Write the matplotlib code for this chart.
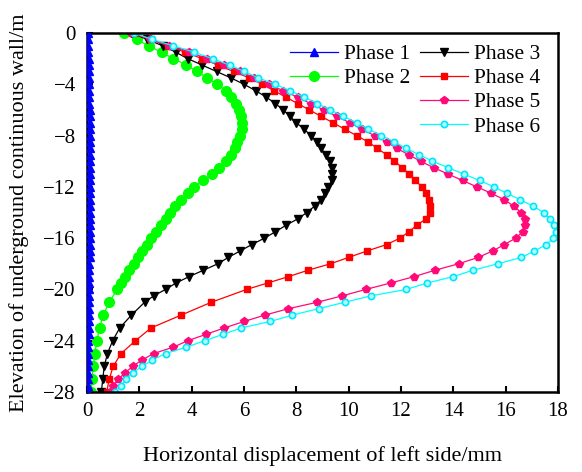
import matplotlib
matplotlib.use('Agg')
import matplotlib.pyplot as plt

plt.rcParams['font.family'] = ['Liberation Serif', 'DejaVu Serif']

# depth (elevation, m) for the densely sampled phases
depth_fine = [0, -0.5, -1, -1.5, -2, -2.5, -3, -3.5, -4, -4.5, -5, -5.5, -6, -6.5, -7, -7.5,
              -8, -8.5, -9, -9.5, -10, -10.5, -11, -11.5, -12, -12.5, -13, -13.5, -14, -14.5,
              -15, -15.5, -16, -16.5, -17, -17.5, -18, -18.5, -19, -19.5, -20, -20.5, -21,
              -21.5, -22, -22.5, -23, -23.5, -24, -24.5, -25, -25.5, -26, -26.5, -27, -27.5, -28]
depth_p2 = [0, -0.5, -1, -1.5, -2, -2.5, -3, -3.5, -4, -4.5, -5, -5.5, -6, -6.5, -7, -7.5,
            -8, -8.5, -9, -9.5, -10, -10.5, -11, -11.5, -12, -12.5, -13, -13.5, -14, -14.5,
            -15, -15.5, -16, -16.5, -17, -17.5, -18, -18.5, -19, -19.5, -20,
            -21, -22, -23, -24, -25, -26, -27, -28]
depth_p3 = [0, -0.5, -1, -1.5, -2, -2.5, -3, -3.5, -4, -4.5, -5, -5.5, -6, -6.5, -7, -7.5,
            -8, -8.5, -9, -9.5, -10, -10.5, -11, -11.5, -12, -12.5, -13, -13.5, -14, -14.5,
            -15, -15.5, -16, -16.5, -17, -17.5, -18, -18.5, -19, -19.5, -20, -20.5, -21,
            -22, -23, -24, -25, -26, -27, -28]
depth_p4 = depth_p2

# horizontal displacement (mm)
phase1 = [0.03, 0.04, 0.05, 0.05, 0.06, 0.06, 0.07, 0.07, 0.08, 0.08,
          0.09, 0.09, 0.1, 0.1, 0.1, 0.11, 0.11, 0.11, 0.12, 0.12,
          0.12, 0.12, 0.12, 0.12, 0.12, 0.12, 0.12, 0.12, 0.12, 0.12,
          0.11, 0.11, 0.11, 0.1, 0.1, 0.1, 0.09, 0.09, 0.09, 0.08,
          0.08, 0.08, 0.07, 0.07, 0.07, 0.06, 0.06, 0.06, 0.05, 0.05,
          0.05, 0.04, 0.04, 0.04, 0.03, 0.03, 0.03]
phase2 = [1.43, 1.9, 2.35, 2.85, 3.3, 3.8, 4.2, 4.6, 4.98, 5.3,
          5.5, 5.68, 5.8, 5.88, 5.92, 5.92, 5.85, 5.75, 5.65, 5.52,
          5.3, 5.05, 4.78, 4.45, 4.1, 3.85, 3.6, 3.38, 3.18, 3.0,
          2.82, 2.62, 2.45, 2.28, 2.12, 1.95, 1.78, 1.6, 1.45, 1.3,
          1.15, 0.85, 0.62, 0.48, 0.38, 0.3, 0.24, 0.19, 0.16]
phase3 = [1.7, 2.3, 2.9, 3.4, 3.85, 4.4, 4.95, 5.5, 6.0, 6.45,
          6.85, 7.2, 7.5, 7.75, 8.0, 8.3, 8.55, 8.78, 8.95, 9.12,
          9.28, 9.35, 9.38, 9.35, 9.22, 9.08, 8.95, 8.7, 8.4, 8.05,
          7.6, 7.2, 6.78, 6.3, 5.85, 5.4, 5.0, 4.45, 3.9, 3.4,
          3.0, 2.55, 2.2, 1.7, 1.25, 0.98, 0.78, 0.66, 0.6, 0.55]
phase4 = [1.8, 2.45, 3.1, 3.75, 4.4, 5.0, 5.6, 6.2, 6.7, 7.15,
          7.6, 8.05, 8.5, 8.95, 9.4, 9.85, 10.3, 10.75, 11.1, 11.45,
          11.75, 12.05, 12.3, 12.55, 12.8, 12.95, 13.08, 13.12, 13.1, 12.95,
          12.6, 12.3, 11.96, 11.45, 10.7, 10.0, 9.3, 8.45, 7.7, 6.9,
          6.1, 4.75, 3.6, 2.45, 1.85, 1.3, 1.0, 0.85, 0.75]
phase5 = [1.7, 2.4, 3.15, 3.9, 4.6, 5.25, 5.85, 6.4, 6.95, 7.5,
          8.05, 8.55, 9.05, 9.55, 10.05, 10.5, 11.0, 11.45, 11.85, 12.3,
          12.75, 13.25, 13.8, 14.35, 14.9, 15.45, 15.95, 16.3, 16.6, 16.72,
          16.75, 16.65, 16.38, 15.95, 15.5, 14.95, 14.2, 13.3, 12.5, 11.6,
          10.65, 9.75, 8.8, 7.7, 6.8, 6.0, 5.25, 4.55, 3.85, 3.3,
          2.55, 2.1, 1.75, 1.45, 1.2, 1.0, 0.88]
phase6 = [1.8, 2.5, 3.3, 4.1, 4.8, 5.45, 6.0, 6.55, 7.2, 7.75,
          8.3, 8.8, 9.3, 9.8, 10.3, 10.75, 11.25, 11.75, 12.2, 12.7,
          13.2, 13.8, 14.4, 15.0, 15.55, 16.05, 16.55, 17.05, 17.45, 17.7,
          17.85, 17.92, 17.82, 17.55, 17.1, 16.6, 15.7, 14.75, 14.0, 13.0,
          12.2, 10.85, 9.85, 8.85, 7.85, 7.0, 5.9, 5.2, 4.5, 3.8,
          3.0, 2.5, 2.1, 1.75, 1.5, 1.3, 1.07]

xticks = [0, 2, 4, 6, 8, 10, 12, 14, 16, 18]
yticks = [0, -4, -8, -12, -16, -20, -24, -28]

fig = plt.figure(figsize=(5.82, 4.72), dpi=100)
ax = fig.add_axes([0.1495, 0.1695, 0.8093, 0.7605])

lw = 0.9
h1, = ax.plot(phase1, depth_fine, color='#0000ff', marker='^', ms=6, lw=lw, zorder=3,
              label='Phase 1')
h2, = ax.plot(phase2, depth_p2, color='#00ff00', marker='o', ms=7, lw=lw, label='Phase 2')
h3, = ax.plot(phase3, depth_p3, color='black', marker='v', ms=6, lw=lw, label='Phase 3')
h4, = ax.plot(phase4, depth_p4, color='#ff0000', marker='s', ms=5, lw=lw, label='Phase 4')
h5, = ax.plot(phase5, depth_fine, color='#ff0a78', marker='p', ms=6, lw=lw, label='Phase 5')
h6, = ax.plot(phase6, depth_fine, color='#00ffff', marker='o', ms=4.5, lw=lw,
              markerfacecolor='#b0ffff', markeredgecolor='#00e5ff', markeredgewidth=1.2,
              label='Phase 6')

ax.set_xlim(0, 18)
ax.set_ylim(-28, 0)
ax.set_xticks(xticks)
ax.set_yticks(yticks)
ax.tick_params(direction='in', length=4.5, width=1.5, labelsize=15, pad=7)
ax.tick_params(axis='y', pad=8)
for s in ax.spines.values():
    s.set_linewidth(1.8)

ax.set_xlabel('Horizontal displacement of left side/mm', fontsize=16, labelpad=18)
ax.set_ylabel('Elevation of underground continuous wall/m', fontsize=16, labelpad=10)

leg_kw = dict(loc='upper left', frameon=False, fontsize=15.5, borderpad=0, borderaxespad=0,
              handlelength=2.25, handletextpad=0.25, labelspacing=0.19)
fig.legend(handles=[h1, h2], bbox_to_anchor=(290 / 582, 1 - 44 / 472), **leg_kw)
fig.legend(handles=[h3, h4, h5, h6], bbox_to_anchor=(420 / 582, 1 - 44 / 472), **leg_kw)

fig.savefig('out.png', dpi=100)
